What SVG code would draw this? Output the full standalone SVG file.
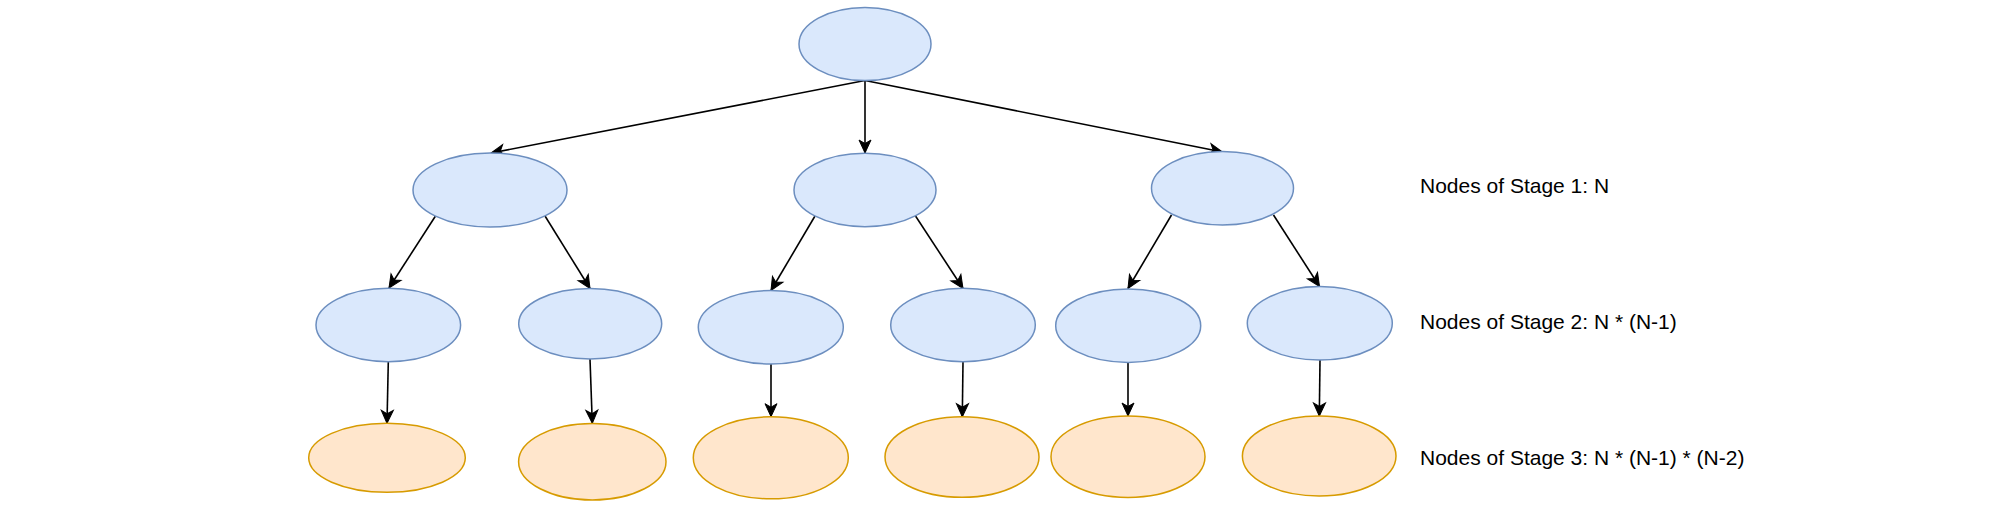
<svg xmlns="http://www.w3.org/2000/svg" width="1996" height="518" viewBox="0 0 1996 518">
  <defs>
    <marker id="arrow" markerUnits="userSpaceOnUse" markerWidth="18" markerHeight="18" viewBox="-15 -9 18 18" refX="0" refY="0" orient="auto">
      <path d="M-13,-6 L0,0 L-13,6 L-9.5,0 Z" fill="#000" stroke="#000" stroke-width="1"/>
    </marker>
  </defs>
  <style>
    .blue { fill: #dae8fc; stroke: #6c8ebf; stroke-width: 1.5; }
    .orange { fill: #ffe6cc; stroke: #d79b00; stroke-width: 1.5; }
    .edge { fill: none; stroke: #000; stroke-width: 1.6; marker-end: url(#arrow); }
    .label { font-family: "Comic Sans MS", "Liberation Sans", sans-serif; font-size: 21px; fill: #000; }
  </style>
  <rect width="1996" height="518" fill="#ffffff"/>

  <g id="connectors">
    <line class="edge" x1="865" y1="80.5" x2="491" y2="153"/>
    <line class="edge" x1="865" y1="80.5" x2="865" y2="153"/>
    <line class="edge" x1="865" y1="80.5" x2="1222.5" y2="152"/>

    <line class="edge" x1="435.5" y1="216" x2="389" y2="288"/>
    <line class="edge" x1="545" y1="216" x2="590" y2="288.5"/>
    <line class="edge" x1="815" y1="216" x2="771" y2="290.5"/>
    <line class="edge" x1="915.5" y1="216" x2="963" y2="288.5"/>
    <line class="edge" x1="1171.5" y1="215" x2="1128" y2="288.5"/>
    <line class="edge" x1="1273.5" y1="215" x2="1319.5" y2="286.5"/>

    <line class="edge" x1="388.3" y1="361.7" x2="387" y2="423.3"/>
    <line class="edge" x1="590" y1="359" x2="592.3" y2="423.3"/>
    <line class="edge" x1="771" y1="364" x2="771" y2="416.7"/>
    <line class="edge" x1="963" y1="361.7" x2="962.3" y2="416.7"/>
    <line class="edge" x1="1128" y1="362.3" x2="1128" y2="416"/>
    <line class="edge" x1="1320" y1="360" x2="1319.3" y2="416"/>
  </g>

  <g id="root"><ellipse class="blue" cx="865" cy="44" rx="66" ry="36.5"/></g>

  <g id="s1-left"><ellipse class="blue" cx="490" cy="190" rx="77" ry="37"/></g>
  <g id="s1-mid"><ellipse class="blue" cx="865" cy="190" rx="71" ry="36.7"/></g>
  <g id="s1-right"><ellipse class="blue" cx="1222.5" cy="188.3" rx="71" ry="36.7"/></g>

  <g id="s2-a"><ellipse class="blue" cx="388.3" cy="325" rx="72.3" ry="36.7"/></g>
  <g id="s2-b"><ellipse class="blue" cx="590.2" cy="323.7" rx="71.5" ry="35.3"/></g>
  <g id="s2-c"><ellipse class="blue" cx="770.8" cy="327.3" rx="72.5" ry="36.7"/></g>
  <g id="s2-d"><ellipse class="blue" cx="963" cy="325" rx="72.3" ry="36.7"/></g>
  <g id="s2-e"><ellipse class="blue" cx="1128.2" cy="325.7" rx="72.5" ry="36.7"/></g>
  <g id="s2-f"><ellipse class="blue" cx="1319.8" cy="323.3" rx="72.5" ry="36.7"/></g>

  <g id="s3-a"><ellipse class="orange" cx="387" cy="457.8" rx="78.3" ry="34.5"/></g>
  <g id="s3-b"><ellipse class="orange" cx="592.3" cy="461.7" rx="73.7" ry="38.3"/></g>
  <g id="s3-c"><ellipse class="orange" cx="770.8" cy="457.8" rx="77.5" ry="41"/></g>
  <g id="s3-d"><ellipse class="orange" cx="962" cy="457" rx="77" ry="40.3"/></g>
  <g id="s3-e"><ellipse class="orange" cx="1128" cy="456.7" rx="77" ry="40.7"/></g>
  <g id="s3-f"><ellipse class="orange" cx="1319.2" cy="456" rx="76.8" ry="40"/></g>

  <g id="labels">
    <text class="label" x="1420" y="192.5">Nodes of Stage 1: N</text>
    <text class="label" x="1420" y="328.5">Nodes of Stage 2: N * (N-1)</text>
    <text class="label" x="1420" y="465">Nodes of Stage 3: N * (N-1) * (N-2)</text>
  </g>
</svg>
